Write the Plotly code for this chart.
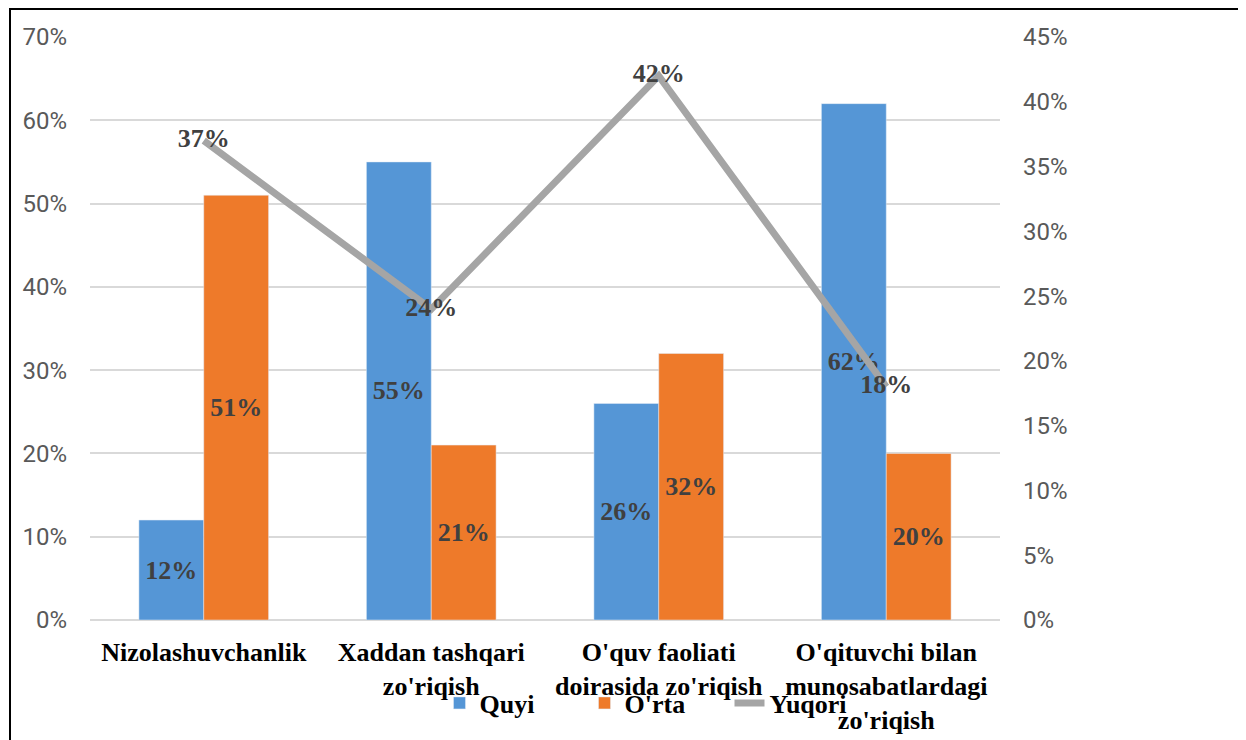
import plotly.graph_objects as go

categories = ["Nizolashuvchanlik", "Xaddan tashqari<br>zo'riqish",
              "O'quv faoliati<br>doirasida zo'riqish",
              "O'qituvchi bilan<br>munosabatlardagi<br>zo'riqish"]
quyi = [0.12, 0.55, 0.26, 0.62]
orta = [0.51, 0.21, 0.32, 0.20]
yuqori = [0.37, 0.24, 0.42, 0.18]
left_ticks = [0, 0.1, 0.2, 0.3, 0.4, 0.5, 0.6, 0.7]
right_ticks = [0, 0.05, 0.1, 0.15, 0.2, 0.25, 0.3, 0.35, 0.4, 0.45]

OFF = 8  # page body margin
W, H = 1246 - OFF, 740 - OFF
L, R, T, B = 82, 246, 29, 120
PW, PH = W - L - R, H - T - B

def px(x):
    return (x - OFF - L) / PW

def py(y):
    return (H - B - (y - OFF)) / PH

serif = "Liberation Serif, Times New Roman, serif"
sans = "Liberation Sans Narrow, Arial Narrow, Roboto, sans-serif"
lab_font = dict(family=serif, size=26, color="#404040", weight="bold")

fig = go.Figure()
fig.add_trace(go.Bar(
    x=categories, y=quyi, name="Quyi", marker=dict(color="#5596d6"),
    texttemplate="%{y:.0%}", textposition="inside",
    insidetextanchor="middle", textfont=lab_font, cliponaxis=False,
))
fig.add_trace(go.Bar(
    x=categories, y=orta, name="O'rta", marker=dict(color="#ee7a2a"),
    texttemplate="%{y:.0%}", textposition="inside",
    insidetextanchor="middle", textfont=lab_font, cliponaxis=False,
))
fig.add_trace(go.Scatter(
    x=categories, y=yuqori, name="Yuqori", yaxis="y2",
    mode="lines+text", line=dict(color="#a5a5a5", width=7),
    text=[f"{round(v*100)}%" for v in yuqori],
    textposition="middle center", textfont=lab_font, cliponaxis=False,
))

fig.update_layout(
    width=W, height=H,
    margin=dict(l=L, r=R, t=T, b=B, autoexpand=False),
    paper_bgcolor="white", plot_bgcolor="white",
    barmode="group", bargap=0.43, bargroupgap=0,
    showlegend=True,
    legend=dict(orientation="h", x=px(657), xanchor="center",
                y=py(703), yanchor="middle", entrywidth=100,
                font=dict(family=serif, size=26, color="black", weight="bold"),
                tracegroupgap=0, bgcolor="rgba(0,0,0,0)"),
    xaxis=dict(showgrid=False, showline=False, ticks="",
               tickfont=dict(family=serif, size=26, color="black", weight="bold"),
               tickangle=0, ticklabelstandoff=14),
    yaxis=dict(range=[0, 0.7], tickvals=left_ticks, tickformat=".0%",
               showgrid=True, gridcolor="#d9d9d9", gridwidth=1.5,
               zeroline=True, zerolinecolor="#d9d9d9", zerolinewidth=2,
               showline=False, ticks="", ticklabelstandoff=22,
               tickfont=dict(family=sans, size=24, color="#595959")),
    yaxis2=dict(range=[0, 0.45], tickvals=right_ticks, tickformat=".0%",
                overlaying="y", side="right", showgrid=False,
                zeroline=False, showline=False, ticks="",
                ticklabelstandoff=22,
                tickfont=dict(family=sans, size=24, color="#595959")),
    shapes=[dict(type="rect", xref="paper", yref="paper",
                 x0=px(10), x1=px(1270), y0=py(770), y1=py(9),
                 line=dict(color="black", width=2), layer="above")],
)

fig.write_html("out.html")
